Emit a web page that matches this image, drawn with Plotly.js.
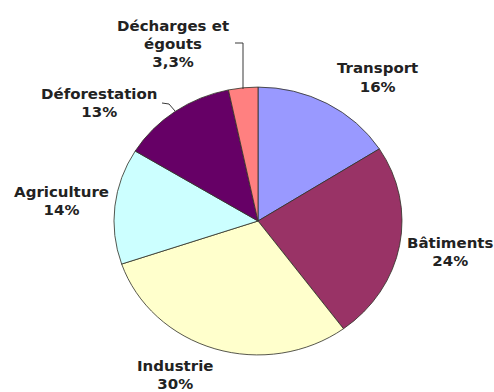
<!DOCTYPE html>
<html>
<head>
<meta charset="utf-8">
<script src="https://cdn.plot.ly/plotly-3.0.1.min.js"></script>
<style>
html,body{margin:0;padding:0;background:#fff;overflow:hidden;width:494px;height:392px;}
#wrap{width:494px;height:392px;overflow:hidden;}
#chart{width:494px;height:421px;transform:scaleY(0.93);transform-origin:0 0;}
</style>
</head>
<body>
<div id="wrap"><div id="chart"></div></div>
<script>
// Data
const categories = ['Transport', 'Bâtiments', 'Industrie', 'Agriculture', 'Déforestation', 'Décharges et<br>égouts'];
const shares = [16, 24, 30, 14, 13, 3.3];
const shareLabels = ['16%', '24%', '30%', '14%', '13%', '3,3%'];
const colors = ['#9999FF', '#993366', '#FFFFCC', '#CCFFFF', '#660066', '#FF8080'];

// Layout helpers (reference pixel -> paper coords, accounting for vertical squash)
const W = 494, H = 421, SQ = 0.93;
const px = x => x / W;
const py = y => 1 - (y / SQ) / H;

// label anchor positions (layout only)
const labelPos = [[377, 78], [450, 253], [175, 376], [62, 202], [99, 103], [173, 44]];

const annotations = categories.map((c, i) => ({
  xref: 'paper', yref: 'paper',
  x: px(labelPos[i][0]), y: py(labelPos[i][1]),
  xanchor: 'center', yanchor: 'middle',
  text: c + '<br>' + shareLabels[i],
  showarrow: false,
  font: {family: 'DejaVu Sans', size: 15, weight: 'bold', color: '#222'}
}));

const cx = 258, cy = 221, rx = 144, ry = 134;
const pie = {
  type: 'pie',
  labels: categories,
  values: shares,
  sort: false,
  direction: 'clockwise',
  rotation: 0,
  textinfo: 'none',
  hoverinfo: 'label+percent',
  marker: {colors: colors, line: {color: 'rgba(50,50,40,0.85)', width: 1}},
  domain: {x: [px(cx - rx), px(cx + rx)], y: [py(cy + ry), py(cy - ry)]},
  showlegend: false
};

const lineShape = (pts) => ({
  type: 'path', xref: 'paper', yref: 'paper',
  path: pts.map((p, i) => (i ? 'L ' : 'M ') + px(p[0]) + ' ' + py(p[1])).join(' '),
  line: {color: '#333', width: 1}
});

const layout = {
  width: W, height: H,
  margin: {l: 0, r: 0, t: 0, b: 0},
  paper_bgcolor: '#fff',
  annotations: annotations,
  shapes: [
    lineShape([[235, 43], [243, 43], [243, 89]]),
    lineShape([[162, 103], [169, 104], [175, 111]])
  ]
};

Plotly.newPlot('chart', [pie], layout, {displayModeBar: false, staticPlot: true});
</script>
</body>
</html>
